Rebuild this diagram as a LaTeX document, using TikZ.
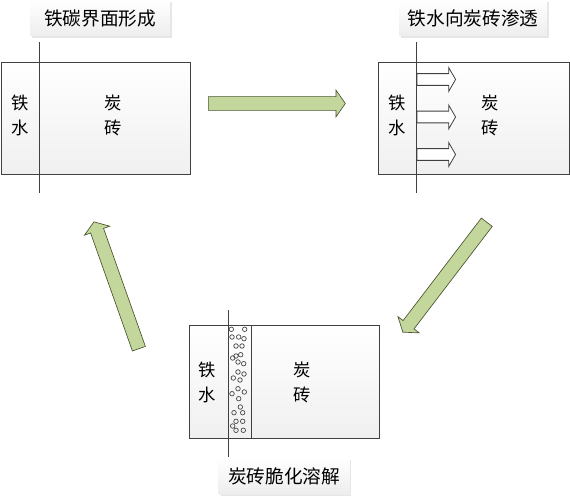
\documentclass[tikz,border=0pt]{standalone}
\usepackage{fontspec}
\setmainfont{Noto Sans CJK SC}
\usetikzlibrary{calc,shapes.arrows,shadows}
\definecolor{olivefill}{HTML}{C3D69B}
\definecolor{olivedraw}{HTML}{4A5530}
\definecolor{edge}{HTML}{404040}
\tikzset{
	brick/.style={draw=edge, line width=0.6pt, top color=white, bottom color=gray!12, inner sep=0pt},
	tag/.style={top color=white, bottom color=gray!14, minimum height=27pt, inner sep=0pt,
		font=\fontsize{14}{16}\selectfont,
		drop shadow={opacity=0.2, shadow xshift=1.5pt, shadow yshift=-1.5pt}},
	word/.style={align=center, inner sep=0pt, font=\fontsize{13}{18.75}\selectfont},
	bigarrow/.style={single arrow, draw=olivedraw, fill=olivefill, line width=0.5pt,
		inner sep=0pt, inner ysep=4.9pt, minimum width=0pt,
		single arrow head extend=4.9pt, single arrow tip angle=110, anchor=tail},
	seep/.style={single arrow, draw=edge, fill=white, line width=0.6pt,
		inner sep=0pt, inner ysep=4.1pt, minimum width=0pt, minimum height=29pt,
		single arrow head extend=4.5pt, single arrow tip angle=120, anchor=tail},
	bubble/.style={draw=edge, line width=0.5pt}
}

\begin{document}
\begin{tikzpicture}[x=0.75pt, y=-0.75pt]
		\useasboundingbox (0,0) rectangle (570,498);
		% stage 1
		\node[brick, minimum width=141.75pt, minimum height=84pt] (b1) at (95.5,118) {};
		\coordinate (l1a) at (39,42);
		\coordinate (l1b) at (39,193);
		\draw[edge, line width=0.6pt] (l1a) -- (l1b);
		\node[word] (iron1) at (20,115.5) {铁\\水};
		\node[word] (brk1) at (113,115.5) {炭\\砖};
		\node[tag, minimum width=105pt] (t1) at (100,18) {铁碳界面形成};
		% stage 2
		\node[brick, minimum width=143.25pt, minimum height=84pt] (b2) at (473.5,118) {};
		\coordinate (l2a) at (416.5,42);
		\coordinate (l2b) at (416.5,193);
		\foreach \yy [count=\i] in {79.5,117,154.5}
		\node[seep] (s\i) at (416.5,\yy) {};
		\draw[edge, line width=0.6pt] (l2a) -- (l2b);
		\node[word] (iron2) at (397,115.5) {铁\\水};
		\node[word] (brk2) at (490,115.5) {炭\\砖};
		\node[tag, minimum width=111pt] (t2) at (473,18) {铁水向炭砖渗透};
		% stage 3
		\node[brick, minimum width=142.5pt, minimum height=84.75pt] (b3) at (284,381.5) {};
		\coordinate (l3a) at (228.7,310);
		\coordinate (l3b) at (228.7,457);
		\coordinate (l4a) at (251,325);
		\coordinate (l4b) at (251,438);
		\draw[edge, line width=0.6pt] (l3a) -- (l3b);
		\draw[edge, line width=0.6pt] (l4a) -- (l4b);
		\foreach \bx/\by in {231.3/329.3, 244.7/329.3, 232/337, 238.7/337, 244/338.7,
			236/346, 242/346, 236/356, 240.7/354.7, 232.7/358, 238/362, 243.7/363.7,
			238/372, 244/374, 233.3/378, 240/380, 238/388.7, 244.3/392, 232/393.7,
			238.7/398.7, 240.3/407, 234/412.7, 242.7/412.7, 236/421.3, 242.7/421.3,
			232.7/426, 236/430.3, 243.3/430.3}
		\draw[bubble] (\bx,\by) circle (1.7pt);
		\node[word] (iron3) at (207,382.5) {铁\\水};
		\node[word] (brk3) at (302,382.5) {炭\\砖};
		\node[tag, minimum width=98pt] (t3) at (284,476) {炭砖脆化溶解};
		% cycle arrows
		\coordinate (tA) at (208,103.5);
		\coordinate (hA) at (345,103.5);
		\coordinate (tB) at (487,222);
		\coordinate (hB) at (403,332);
		\coordinate (tC) at (139,349);
		\coordinate (hC) at (94,222);
		\foreach \ta/\ha/\nm in {tA/hA/arrA, tB/hB/arrB, tC/hC/arrC}
		\path let \p1=($(\ha)-(\ta)$), \n1={atan2(\y1,\x1)}, \n2={veclen(\x1,\y1)} in
		node[bigarrow, rotate=\n1, minimum height=\n2] (\nm) at (\ta) {};
\end{tikzpicture}
\end{document}
